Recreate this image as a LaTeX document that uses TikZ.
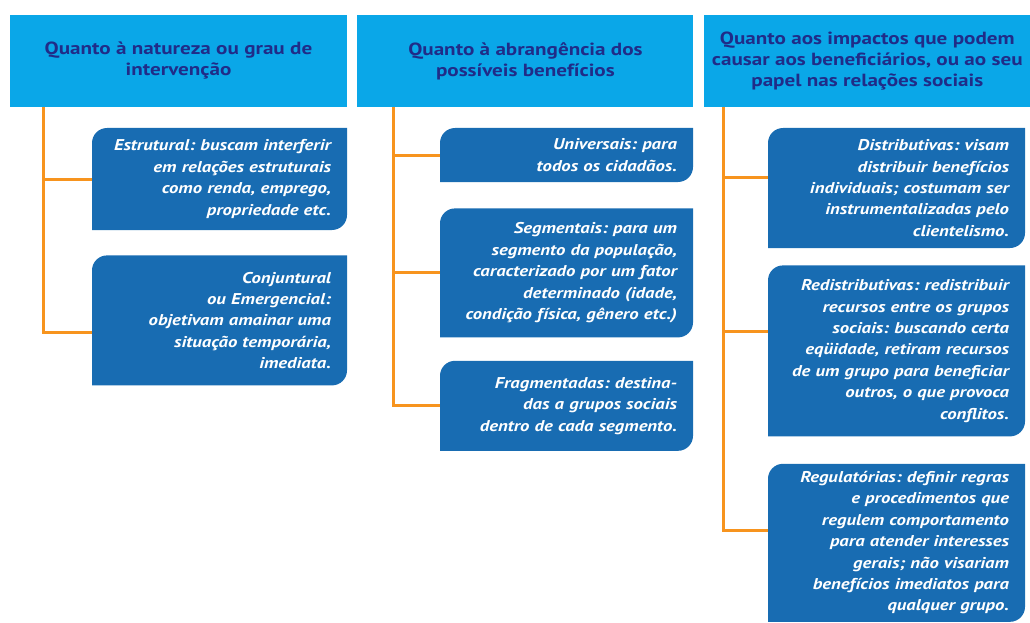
\documentclass[tikz,border=0pt]{standalone}
\usepackage{fontspec}
\setmainfont{PT Sans}[FakeStretch=1.2]
\frenchspacing
\usetikzlibrary{positioning}
\definecolor{headblue}{RGB}{10,167,232}
\definecolor{headtext}{RGB}{32,44,136}
\definecolor{boxblue}{RGB}{24,108,178}
\definecolor{branchorange}{RGB}{247,148,30}

\tikzset{
  header/.style={fill=headblue, text=headtext, inner sep=0pt, minimum height=92pt,
    align=center, font=\bfseries\fontsize{17.6}{21}\selectfont},
  leaf/.style={text=white, inner xsep=16pt, inner ysep=0pt, minimum height=#1,
    align=right, font=\bfseries\itshape\fontsize{15.6}{21.4}\selectfont,
    path picture={
      \fill[boxblue] (path picture bounding box.south west)
        -- ([yshift=-\leafr]path picture bounding box.north west)
        arc[start angle=180, end angle=90, radius=\leafr]
        -- (path picture bounding box.north east)
        -- ([yshift=\leafr]path picture bounding box.south east)
        arc[start angle=0, end angle=-90, radius=\leafr]
        -- cycle;}},
  branch/.style={draw=branchorange, line width=3pt}
}

\begin{document}
\begin{tikzpicture}[x=1pt, y=1pt]
% Basic parameters
\def\leafr{15pt}
\useasboundingbox (0,0) rectangle (1030,-623);

% Draw headers
\node[header, minimum width=337pt] (natureza) at (178.5,-61)
  {Quanto à natureza ou grau de\\intervenção};
\node[header, minimum width=336pt, right=10pt of natureza] (abrangencia)
  {Quanto à abrangência dos\\possíveis benefícios};
\node[header, minimum width=327pt, right=10pt of abrangencia] (impactos)
  {Quanto aos impactos que podem\\causar aos beneficiários, ou ao seu\\papel nas relações sociais};

% First column
\node[leaf=102pt, text width=223pt] (estrutural) at (219.5,-179)
  {Estrutural: buscam interferir\\em relações estruturais\\como renda, emprego,\\propriedade etc.};
\node[leaf=130pt, text width=223pt, below=25pt of estrutural] (conjuntural)
  {Conjuntural\\ou Emergencial:\\objetivam amainar uma\\situação temporária,\\imediata.};

% Second column
\node[leaf=54pt, text width=221pt] (universais) at (566.5,-155)
  {Universais: para\\todos os cidadãos.};
\node[leaf=129pt, text width=221pt, below=26pt of universais] (segmentais)
  {Segmentais: para um\\segmento da população,\\caracterizado por um fator\\determinado (idade,\\condição física, gênero etc.)};
\node[leaf=90pt, text width=221pt, below=23pt of segmentais] (fragmentadas)
  {Fragmentadas: destina-\\das a grupos sociais\\dentro de cada segmento.};

% Third column
\node[leaf=120pt, text width=225pt] (distributivas) at (896.5,-188)
  {Distributivas: visam\\distribuir benefícios\\individuais; costumam ser\\instrumentalizadas pelo\\clientelismo.};
\node[leaf=171pt, text width=225pt, below=17pt of distributivas] (redistributivas)
  {Redistributivas: redistribuir\\recursos entre os grupos\\sociais: buscando certa\\eqüidade, retiram recursos\\de um grupo para beneficiar\\outros, o que provoca\\conflitos.};
\node[leaf=158pt, text width=225pt, below=27pt of redistributivas] (regulatorias)
  {Regulatórias: definir regras\\e procedimentos que\\regulem comportamento\\para atender interesses\\gerais; não visariam\\benefícios imediatos para\\qualquer grupo.};

% Add branches
\draw[branch] ([xshift=34pt]natureza.south west) |- (estrutural.west);
\draw[branch] ([xshift=34pt]natureza.south west) |- ([yshift=-12pt]conjuntural.west);
\draw[branch] ([xshift=36pt]abrangencia.south west) |- (universais.west);
\draw[branch] ([xshift=36pt]abrangencia.south west) |- (segmentais.west);
\draw[branch] ([xshift=36pt]abrangencia.south west) |- (fragmentadas.west);
\draw[branch] ([xshift=20pt]impactos.south west) |- ([yshift=11pt]distributivas.west);
\draw[branch] ([xshift=20pt]impactos.south west) |- ([yshift=19pt]redistributivas.west);
\draw[branch] ([xshift=20pt]impactos.south west) |- ([yshift=12pt]regulatorias.west);
\end{tikzpicture}
\end{document}
